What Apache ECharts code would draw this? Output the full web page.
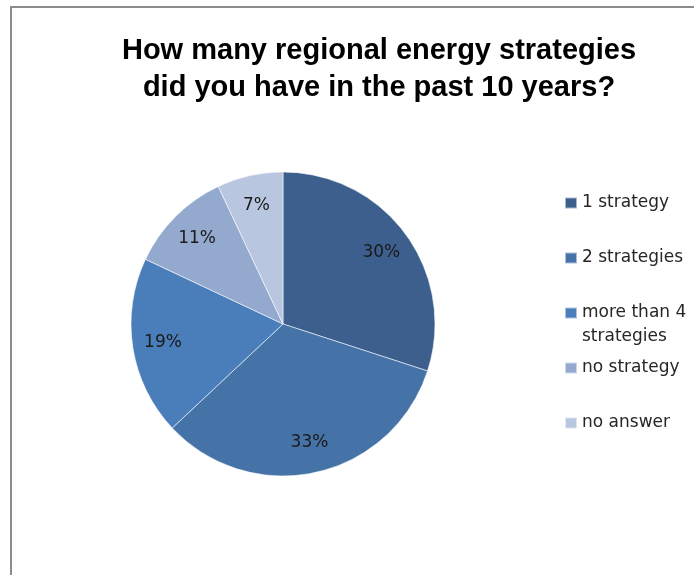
<!DOCTYPE html>
<html>
<head>
<meta charset="utf-8">
<script src="https://cdn.jsdelivr.net/npm/echarts@6/dist/echarts.min.js"></script>
<style>
  html, body { margin: 0; padding: 0; background: #fff; }
  #chart { width: 694px; height: 575px; }
</style>
</head>
<body>
<div id="chart"></div>
<script>
// 数据
const categories = ['1 strategy', '2 strategies', 'more than 4 strategies', 'no strategy', 'no answer']
const shares = [30, 33, 19, 11, 7]
const colors = ['#3d5f8e', '#4572a7', '#4a7ebb', '#94a9ce', '#b9c6e0']
const titleLines = ['How many regional energy strategies', 'did you have in the past 10 years?']

const chart = echarts.init(document.getElementById('chart'))

const pieData = categories.map((name, i) => ({
  name,
  value: shares[i],
  itemStyle: { color: colors[i] }
}))

// 每个图例单独摆放，间距和原图一致
const legendTops = [193, 248, 277, 358, 413]
const legends = categories.map((name, i) => ({
  data: [name],
  left: 564,
  top: legendTops[i],
  orient: 'vertical',
  icon: 'rect',
  itemWidth: 12,
  itemHeight: 11,
  itemGap: 0,
  padding: 0,
  selectedMode: false,
  formatter: n => (n === 'more than 4 strategies' ? ' \nmore than 4\nstrategies' : n),
  textStyle: {
    fontFamily: 'DejaVu Sans',
    fontSize: 17,
    color: '#262626',
    lineHeight: i === 2 ? 24 : 20,
    padding: [0, 0, 0, 0]
  }
}))

const option = {
  animation: false,
  title: {
    text: titleLines.join('\n'),
    left: 379,
    top: 32,
    padding: 0,
    textAlign: 'center',
    textStyle: {
      fontFamily: '"Liberation Sans Narrow", "Liberation Sans", Arial, sans-serif',
      fontWeight: 'bold',
      fontSize: 29,
      lineHeight: 37,
      color: '#000'
    }
  },
  legend: legends,
  graphic: [
    {
      type: 'rect',
      silent: true,
      shape: { x: 11, y: 7, width: 900, height: 900 },
      style: { fill: 'none', stroke: '#8c8c8c', lineWidth: 2 }
    }
  ],
  series: [
    {
      type: 'pie',
      center: [283, 324],
      radius: 152,
      startAngle: 90,
      clockwise: true,
      silent: true,
      label: { show: false },
      labelLine: { show: false },
      itemStyle: { borderColor: 'rgba(255,255,255,0.55)', borderWidth: 1 },
      data: pieData
    },
    {
      // 只用来放标签，标签落在半径 78% 左右
      type: 'pie',
      center: [283, 324],
      radius: [85, 152],
      startAngle: 90,
      clockwise: true,
      silent: true,
      legendHoverLink: false,
      itemStyle: { color: 'rgba(0,0,0,0)' },
      label: {
        show: true,
        position: 'inside',
        formatter: '{c}%',
        fontFamily: 'DejaVu Sans',
        fontSize: 17,
        color: '#1a1a1a'
      },
      labelLine: { show: false },
      data: categories.map((name, i) => ({ name, value: shares[i] }))
    }
  ]
}

chart.setOption(option)
</script>
</body>
</html>
